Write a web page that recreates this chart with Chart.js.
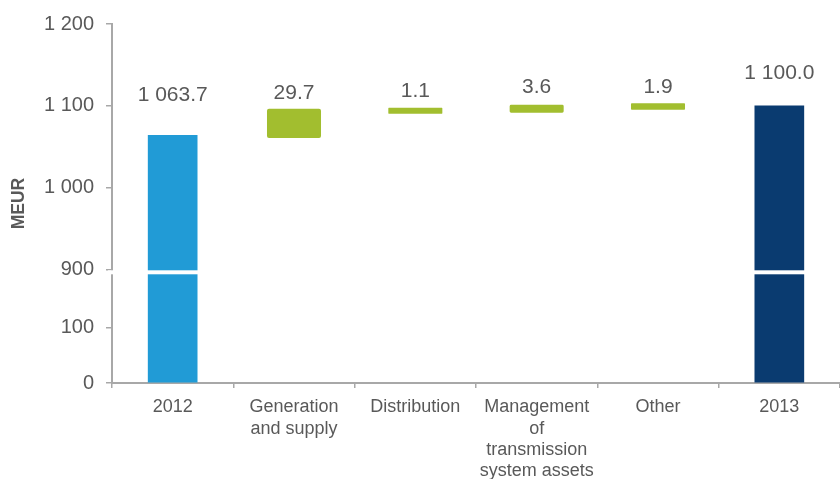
<!DOCTYPE html>
<html>
<head>
<meta charset="utf-8">
<script src="https://cdn.jsdelivr.net/npm/chart.js@4"></script>
<style>
  html, body { margin: 0; padding: 0; background: #fff; }
</style>
</head>
<body>
<canvas id="chart" width="840" height="479"></canvas>
<script>
const categories = ['2012', ['Generation', 'and supply'], 'Distribution',
  ['Management', 'of', 'transmission', 'system assets'], 'Other', '2013'];
const startValue = 1063.7;
const changes = [29.7, 1.1, 3.6, 1.9];
const endValue = 1100.0;
const yTicks = [0, 100, 900, 1000, 1100, 1200];
const barColors = ['#219bd6', '#a2be2f', '#a2be2f', '#a2be2f', '#a2be2f', '#0a3b70'];
const labelGap = [40, 18, 19, 20, 19, 33];

const FONT = '"Liberation Sans", Arial, sans-serif';
const TEXT = '#595959';
const AXIS = '#a8a8a8';

// broken axis: 0-100 bottom piece, 100-900 squeezed, 900-1200 top piece
function toAxis(v) {
  if (v <= 100) return v * 0.56;
  if (v <= 900) return 56 + (v - 100) * (59 / 800);
  return 115 + (v - 900) * 0.827;
}

function fmt(v, dec) {
  const s = v.toFixed(dec);
  const [int, frac] = s.split('.');
  const withSp = int.replace(/\B(?=(\d{3})+(?!\d))/g, ' ');
  return frac ? withSp + '.' + frac : withSp;
}

// build the floating bars
const ranges = [[0, startValue]];
const valueText = [fmt(startValue, 1)];
let run = startValue;
changes.forEach(c => {
  ranges.push([run, run + c]);
  valueText.push(fmt(c, 1));
  run += c;
});
ranges.push([0, endValue]);
valueText.push(fmt(endValue, 1));

const axisBreak = {
  id: 'axisBreak',
  afterDatasetsDraw(chart) {
    const ctx = chart.ctx;
    const y = chart.scales.y.getPixelForValue(toAxis(900));
    ctx.save();
    ctx.fillStyle = '#fff';
    ctx.fillRect(chart.chartArea.left - 4, y + 1, chart.chartArea.right - chart.chartArea.left + 4, 4);
    ctx.restore();
  }
};

const valueLabels = {
  id: 'valueLabels',
  afterDatasetsDraw(chart) {
    const ctx = chart.ctx;
    const meta = chart.getDatasetMeta(0);
    ctx.save();
    ctx.font = '21px ' + FONT;
    ctx.fillStyle = TEXT;
    ctx.textAlign = 'center';
    ctx.textBaseline = 'middle';
    meta.data.forEach((bar, i) => {
      ctx.fillText(valueText[i], bar.x, Math.min(bar.y, bar.base) - labelGap[i]);
    });
    ctx.restore();
  }
};

new Chart(document.getElementById('chart'), {
  type: 'bar',
  data: {
    labels: categories,
    datasets: [{
      data: ranges.map(r => [toAxis(r[0]), toAxis(r[1])]),
      backgroundColor: barColors,
      borderWidth: 0,
      borderRadius: [0, 2, 2, 2, 2, 0],
      borderSkipped: false,
      inflateAmount: [0.33, 2.5, 2.5, 2.5, 2.5, 0.33],
      categoryPercentage: 1,
      barPercentage: 0.404
    }]
  },
  options: {
    responsive: false,
    animation: false,
    devicePixelRatio: 1,
    layout: { padding: { top: 20, right: 0, left: 0, bottom: 0 } },
    plugins: {
      legend: { display: false },
      tooltip: { enabled: false }
    },
    scales: {
      x: {
        grid: { drawOnChartArea: false, tickLength: 5, color: AXIS, lineWidth: 1.5 },
        border: { display: true, color: AXIS, width: 2 },
        ticks: {
          color: TEXT, font: { family: FONT, size: 18, lineHeight: 1.17 },
          padding: 9, maxRotation: 0, autoSkip: false
        },
        afterFit(scale) { scale.height = 96; }
      },
      y: {
        min: 0,
        max: toAxis(1200),
        grid: { drawOnChartArea: false, tickLength: 6, color: AXIS, lineWidth: 1.5 },
        border: { display: true, color: AXIS, width: 2 },
        ticks: {
          color: TEXT, font: { family: FONT, size: 20 }, padding: 12, autoSkip: false,
          callback: (val, i) => fmt(yTicks[i], 0)
        },
        afterBuildTicks(scale) {
          scale.ticks = yTicks.map(v => ({ value: toAxis(v) }));
        },
        title: {
          display: true, text: 'MEUR', color: TEXT,
          font: { family: FONT, size: 17.5, weight: 'bold' },
          padding: { top: 9, bottom: 0 }
        },
        afterFit(scale) { scale.width = 112; }
      }
    }
  },
  plugins: [axisBreak, valueLabels]
});
</script>
</body>
</html>
